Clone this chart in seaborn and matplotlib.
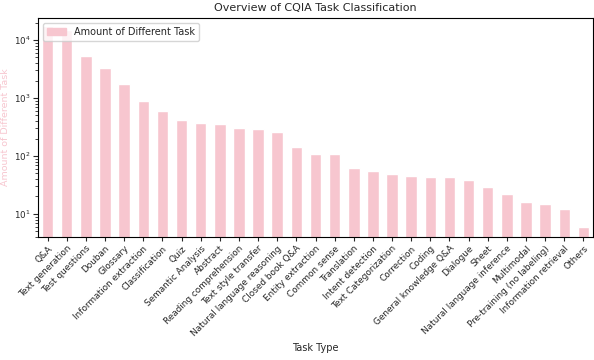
import numpy as np
import pandas as pd
import matplotlib
matplotlib.use("Agg")
import matplotlib.pyplot as plt
from matplotlib.patches import Patch
import seaborn as sns

tasks = ["Q&A", "Text generation", "Test questions", "Douban", "Glossary",
         "Information extraction", "Classification", "Quiz", "Semantic Analysis",
         "Abstract", "Reading comprehension", "Text style transfer",
         "Natural language reasoning", "Closed book Q&A", "Entity extraction",
         "Common sense", "Translation", "Intent detection", "Text Categorization",
         "Correction", "Coding", "General knowledge Q&A", "Dialogue", "Sheet",
         "Natural language inference", "Multimodal", "Pre-training (no labeling)",
         "Information retrieval", "Others"]
counts = [17500, 14900, 5280, 3280, 1730, 881, 592, 413, 371, 352, 300, 288,
          256, 141, 107, 107, 61, 54, 48, 46, 43, 43, 38, 29, 22, 16, 15, 12, 6]

bar_color = "#f7c6cf"

sns.set_style("ticks")
plt.rcParams["font.family"] = ["DejaVu Sans"]

df = pd.DataFrame({"task": tasks, "count": counts})

fig = plt.figure(figsize=(5.94, 3.6), dpi=100)
ax = fig.add_axes([38 / 594, 1 - 237 / 360, 555 / 594, 219 / 360])

sns.barplot(data=df, x="task", y="count", color=bar_color, width=0.6,
            saturation=1, ax=ax)
ax.set_yscale("log")
ax.set_ylim(4, 24000)
ax.set_xlim(-0.5, len(tasks) - 0.5)

ax.set_xticks(range(len(tasks)))
ax.set_xticklabels(tasks, rotation=45, ha="right", rotation_mode="anchor",
                   fontsize=6.4)
ax.tick_params(axis="y", labelsize=6.3, pad=2)
ax.tick_params(axis="x", length=3, pad=2)

ax.set_title("Overview of CQIA Task Classification", fontsize=8, pad=5)
ax.set_xlabel("Task Type", fontsize=7)
ax.set_ylabel("Amount of Different Task", fontsize=6.8, color=bar_color)
ax.yaxis.set_label_coords(-0.05, 0.5)

ax.legend(handles=[Patch(color=bar_color, label="Amount of Different Task")],
          loc="upper left", fontsize=7, frameon=True)

for s in ax.spines.values():
    s.set_color("black")

fig.savefig("out.png", dpi=100)
